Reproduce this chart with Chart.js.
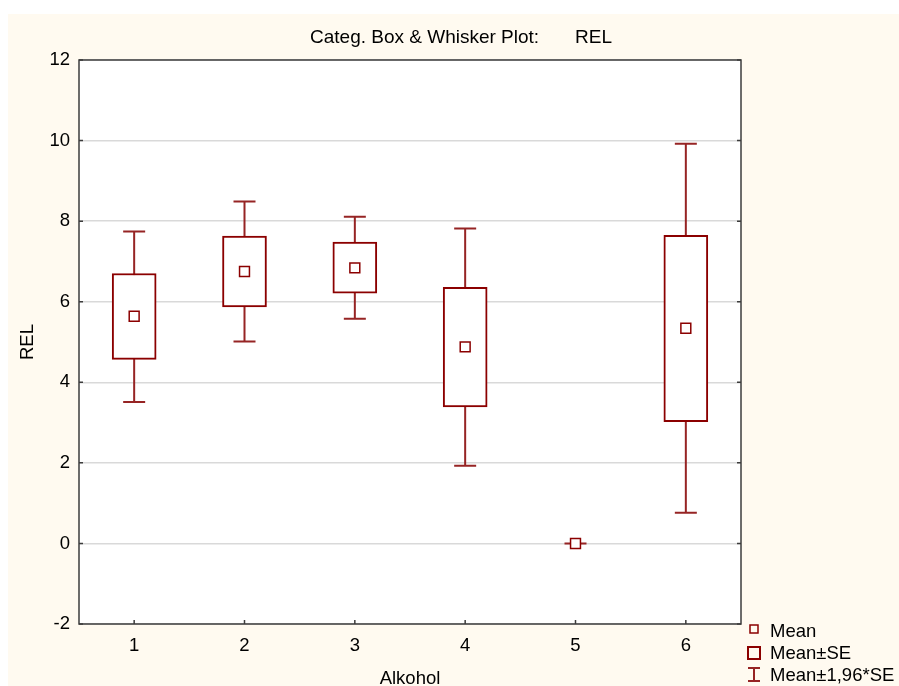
<!DOCTYPE html>
<html>
<head>
<meta charset="utf-8">
<script src="https://cdn.jsdelivr.net/npm/chart.js@4"></script>
<style>
  body { margin: 0; background: #ffffff; }
  #wrap { width: 899px; height: 686px; position: relative; }
</style>
</head>
<body>
<div id="wrap"><canvas id="box-chart"></canvas></div>
<script>
// values
var categories = ['1', '2', '3', '4', '5', '6'];
var means  = [5.64, 6.75, 6.84, 4.88, 0, 5.34];
var seLow  = [4.57, 5.87, 6.21, 3.39, 0, 3.02];
var seHigh = [6.70, 7.63, 7.48, 6.36, 0, 7.65];
var ciLow  = [3.51, 5.01, 5.58, 1.93, 0, 0.76];
var ciHigh = [7.74, 8.49, 8.11, 7.82, 0, 9.92];
var yTicks = [-2, 0, 2, 4, 6, 8, 10, 12];

var dark = '#8b0000';
var whiskerColor = '#962424';
var frameColor = '#3c3c3c';
var font = '"Liberation Sans", Arial, sans-serif';

var seBoxes = [];
for (var i = 0; i < categories.length; i++) {
	seBoxes.push([seLow[i], seHigh[i]]);
}

var backdrop = {
	id: 'backdrop',
	beforeDraw: function(chart){
		var ctx = chart.ctx, a = chart.chartArea;
		ctx.save();
		ctx.fillStyle = '#fffaf0';
		ctx.fillRect(8, 14, chart.width - 8, chart.height - 14);
		ctx.fillStyle = '#ffffff';
		ctx.fillRect(a.left, a.top, a.right - a.left, a.bottom - a.top);
		ctx.restore();
	}
};

var whiskers = {
	id: 'whiskers',
	beforeDatasetsDraw: function(chart){
		var ctx = chart.ctx, xs = chart.scales.x, ys = chart.scales.y;
		ctx.save();
		ctx.strokeStyle = whiskerColor;
		ctx.lineWidth = 2;
		for (var i = 0; i < categories.length; i++) {
			var x = xs.getPixelForValue(i);
			ctx.beginPath();
			ctx.moveTo(x, ys.getPixelForValue(ciLow[i]));
			ctx.lineTo(x, ys.getPixelForValue(ciHigh[i]));
			ctx.moveTo(x - 11, ys.getPixelForValue(ciLow[i]));
			ctx.lineTo(x + 11, ys.getPixelForValue(ciLow[i]));
			ctx.moveTo(x - 11, ys.getPixelForValue(ciHigh[i]));
			ctx.lineTo(x + 11, ys.getPixelForValue(ciHigh[i]));
			ctx.stroke();
		}
		ctx.restore();
	}
};

var decorations = {
	id: 'decorations',
	afterDraw: function(chart){
		var ctx = chart.ctx, a = chart.chartArea, xs = chart.scales.x, ys = chart.scales.y;
		ctx.save();
		// frame
		ctx.strokeStyle = frameColor;
		ctx.lineWidth = 1.5;
		ctx.strokeRect(a.left, a.top, a.right - a.left, a.bottom - a.top);
		// inward tick marks
		ctx.beginPath();
		yTicks.forEach(function(v){
			var y = ys.getPixelForValue(v);
			ctx.moveTo(a.left, y); ctx.lineTo(a.left + 4, y);
			ctx.moveTo(a.right, y); ctx.lineTo(a.right - 4, y);
		});
		for (var i = 0; i < categories.length; i++) {
			var x = xs.getPixelForValue(i);
			ctx.moveTo(x, a.bottom); ctx.lineTo(x, a.bottom - 4);
		}
		ctx.stroke();

		// titles
		ctx.fillStyle = '#000000';
		ctx.font = '19px ' + font;
		ctx.textAlign = 'left';
		ctx.textBaseline = 'alphabetic';
		ctx.fillText('Categ. Box & Whisker Plot:', 310, 43);
		ctx.fillText('REL', 575, 43);
		ctx.font = '18.5px ' + font;
		ctx.textAlign = 'center';
		ctx.fillText('Alkohol', (a.left + a.right) / 2, 684);
		ctx.save();
		ctx.translate(33, (a.top + a.bottom) / 2);
		ctx.rotate(-Math.PI / 2);
		ctx.fillText('REL', 0, 0);
		ctx.restore();

		// legend
		ctx.textAlign = 'left';
		ctx.fillText('Mean', 770, 637);
		ctx.fillText('Mean\u00b1SE', 770, 659);
		ctx.fillText('Mean\u00b11,96*SE', 770, 681);
		ctx.strokeStyle = dark;
		ctx.lineWidth = 1.5;
		ctx.strokeRect(750, 625, 8, 8);
		ctx.lineWidth = 2;
		ctx.strokeRect(748, 647, 12, 12);
		ctx.strokeStyle = whiskerColor;
		ctx.beginPath();
		ctx.moveTo(748, 668); ctx.lineTo(760, 668);
		ctx.moveTo(754, 668); ctx.lineTo(754, 681);
		ctx.moveTo(748, 681); ctx.lineTo(760, 681);
		ctx.stroke();
		ctx.restore();
	}
};

var ctx = document.getElementById('box-chart');
var boxChart = new Chart(ctx, {
	type: 'bar',
	data: {
		labels: categories,
		datasets: [{
			type: 'line',
			label: 'Mean',
			data: means,
			showLine: false,
			pointStyle: 'rect',
			pointRadius: 7,
			pointHoverRadius: 7,
			pointBackgroundColor: '#ffffff',
			pointBorderColor: dark,
			pointBorderWidth: 1.5,
			order: 0
		}, {
			label: 'Mean\u00b1SE',
			data: seBoxes,
			backgroundColor: '#ffffff',
			borderColor: dark,
			borderWidth: 2,
			borderSkipped: false,
			barThickness: 44,
			order: 1
		}]
	},
	options: {
		responsive: true,
		maintainAspectRatio: false,
		animation: false,
		layout: { padding: { left: 8, right: 158, top: 60, bottom: 0 } },
		plugins: {
			legend: { display: false },
			tooltip: { enabled: false }
		},
		scales: {
			x: {
				grid: { display: false, drawTicks: false },
				border: { display: false },
				ticks: { color: '#000000', font: { family: font, size: 18.5 }, padding: 11 },
				afterFit: function(s){ s.height = 62; }
			},
			y: {
				min: -2,
				max: 12,
				afterBuildTicks: function(s){ s.ticks = yTicks.map(function(v){ return { value: v }; }); },
				grid: { color: '#d9d9d9', lineWidth: 1.5, drawTicks: false },
				border: { display: false },
				ticks: { color: '#000000', font: { family: font, size: 18.5 }, padding: 9 },
				afterFit: function(s){ s.width = 71; }
			}
		}
	},
	plugins: [backdrop, whiskers, decorations]
});
</script>
</body>
</html>
